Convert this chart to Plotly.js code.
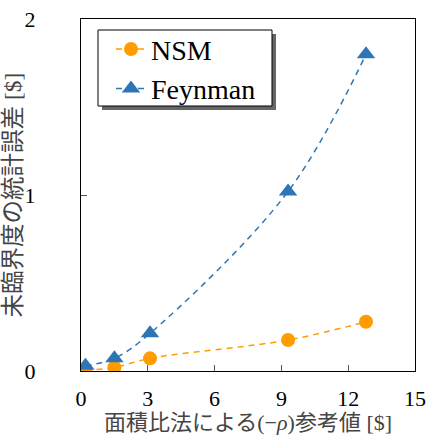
<!DOCTYPE html>
<html>
<head>
<meta charset="utf-8">
<script src="https://cdn.plot.ly/plotly-3.0.1.min.js"></script>
<style>
html,body{margin:0;padding:0;background:#fff;overflow:hidden;}
#chart{width:442px;height:435px;position:relative;}
.fl{position:absolute;left:0;top:0;visibility:hidden;font-size:22px;white-space:nowrap;}
</style>
</head>
<body>
<div class="fl" style="font-family:'Liberation Serif'">NSM Feynman 0123 [$] (ρ)</div>
<div class="fl" style="font-family:'Noto Sans CJK JP'">未臨界度の統計誤差面積比法による参考値</div>
<div id="chart"></div>
<script>
const xNSM = [0.2, 1.5, 3.1, 9.3, 12.8];
const yNSM = [0.005, 0.02, 0.072, 0.176, 0.28];
const xFeyn = [0.2, 1.5, 3.1, 9.3, 12.8];
const yFeyn = [0.03, 0.072, 0.214, 1.02, 1.8];
const xTicks = [0, 3, 6, 9, 12, 15];
const yTicks = [0, 1, 2];

const serif = 'Liberation Serif';
const mixed = 'Liberation Serif, Noto Sans CJK JP';
const traces = [
  {x: xNSM, y: yNSM, name: 'NSM', mode: 'lines+markers', type: 'scatter',
   line: {color: '#ff9c00', dash: '6px,5px', width: 1.5, shape: 'spline'},
   marker: {symbol: 'circle', size: 14, color: '#ff9c00'}},
  {x: xFeyn, y: yFeyn, name: 'Feynman', mode: 'lines+markers', type: 'scatter',
   line: {color: '#2e75b6', dash: '6px,5px', width: 1.5, shape: 'spline'},
   marker: {symbol: 'triangle-up', size: 16, color: '#2e75b6'}}
];
const layout = {
  width: 442, height: 435,
  margin: {l: 81, r: 27, t: 19, b: 64},
  paper_bgcolor: '#fff', plot_bgcolor: '#fff',
  font: {family: serif, size: 22, color: '#000'},
  showlegend: true,
  legend: {x: 0.0898, y: 0.985, xanchor: 'left', yanchor: 'top',
           bgcolor: 'rgba(0,0,0,0)', borderwidth: 0,
           font: {family: serif, size: 28, color: '#000'}},
  xaxis: {range: [0, 15], tickvals: xTicks, ticks: 'inside', ticklen: 6, tickcolor: '#555',
          showline: true, linecolor: '#000', linewidth: 1, mirror: true, showgrid: false, zeroline: false,
          ticklabelstandoff: 8,
          tickfont: {family: serif, size: 22, color: '#000'},
          title: {text: '面積比法による(−<i>ρ</i>)参考値 [$]', standoff: 6,
                  font: {family: mixed, size: 22, color: '#444'}}},
  yaxis: {range: [0, 2], tickvals: yTicks, ticks: 'inside', ticklen: 6, tickcolor: '#555',
          showline: true, linecolor: '#000', linewidth: 1, mirror: true, showgrid: false, zeroline: false,
          ticklabelstandoff: 40,
          tickfont: {family: serif, size: 22, color: '#000'},
          title: {text: '未臨界度の統計誤差 [$]', standoff: 2,
                  font: {family: mixed, size: 23.5, color: '#444'}}},
  shapes: [
    {type: 'rect', xref: 'paper', yref: 'paper', layer: 'above',
     x0: 0.0629, x1: 0.5838, y0: 0.7415, y1: 0.9574,
     fillcolor: 'rgba(0,0,0,0.6)', line: {width: 0}},
    {type: 'rect', xref: 'paper', yref: 'paper', layer: 'above',
     x0: 0.0509, x1: 0.5719, y0: 0.7528, y1: 0.96875,
     fillcolor: '#fff', line: {color: '#000', width: 1}}
  ]
};
const cfg = {displayModeBar: false, staticPlot: true};
Plotly.newPlot('chart', traces, layout, cfg);
if (document.fonts && document.fonts.ready) {
  document.fonts.ready.then(() => Plotly.newPlot('chart', traces, layout, cfg));
}
</script>
</body>
</html>
